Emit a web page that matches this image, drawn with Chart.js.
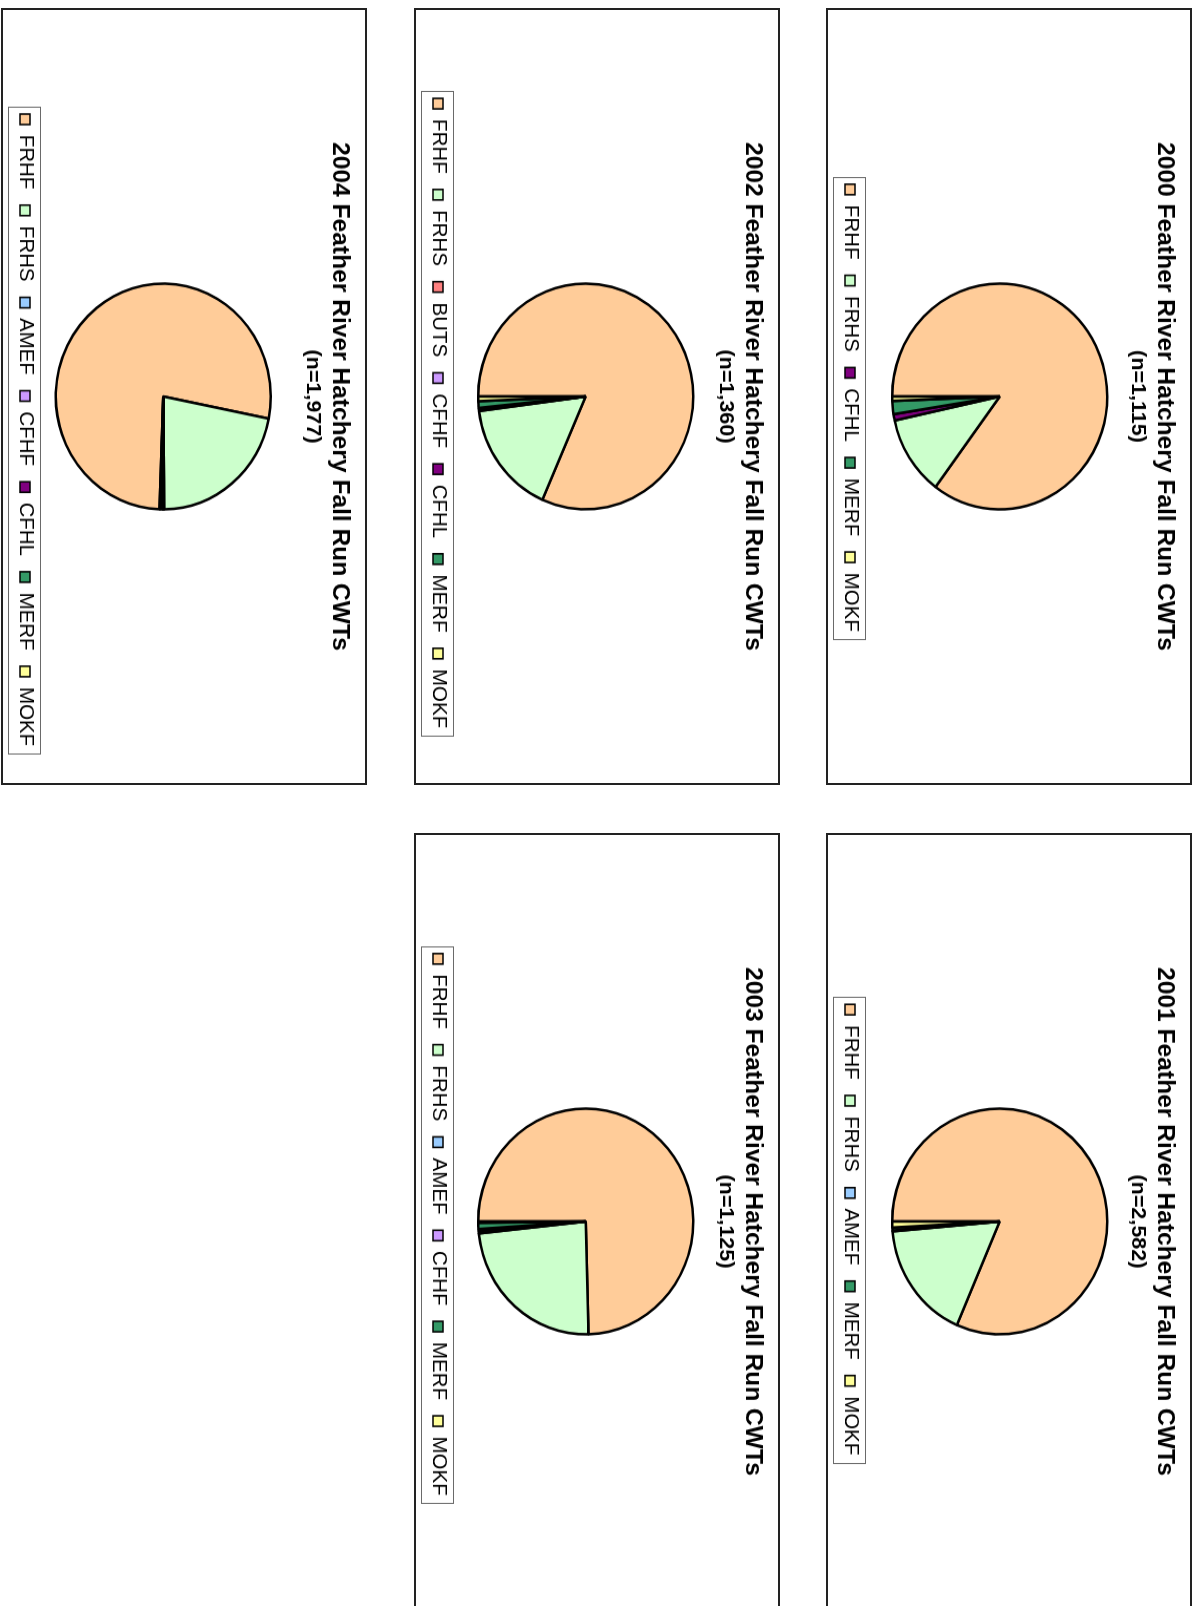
<!DOCTYPE html>
<html>
<head>
<meta charset="utf-8">
<script src="https://cdn.jsdelivr.net/npm/chart.js@4/dist/chart.umd.min.js"></script>
<style>
  html, body { margin: 0; padding: 0; background: #fff; }
  body { width: 1198px; height: 1606px; position: relative; overflow: hidden; }
  .panel { position: absolute; box-sizing: border-box; border: 2px solid #222; background: #fff; }
  .chart { position: absolute; left: 0; top: 0; transform-origin: 0 0; }
</style>
</head>
<body>
<script>
// Coded-wire-tag recoveries by hatchery/release group, Feather River Hatchery fall run
const years = ['2000', '2001', '2002', '2003', '2004'];

const labels2000 = ['FRHF', 'FRHS', 'CFHL', 'MERF', 'MOKF'];
const counts2000 = [950, 127, 10, 21, 7];

const labels2001 = ['FRHF', 'FRHS', 'AMEF', 'MERF', 'MOKF'];
const counts2001 = [2105, 441, 3, 11, 22];

const labels2002 = ['FRHF', 'FRHS', 'BUTS', 'CFHF', 'CFHL', 'MERF', 'MOKF'];
const counts2002 = [1110, 222, 2, 2, 2, 13, 9];

const labels2003 = ['FRHF', 'FRHS', 'AMEF', 'CFHF', 'MERF', 'MOKF'];
const counts2003 = [839, 267, 3, 4, 10, 2];

const labels2004 = ['FRHF', 'FRHS', 'AMEF', 'CFHF', 'CFHL', 'MERF', 'MOKF'];
const counts2004 = [1534, 429, 2, 2, 2, 6, 2];

// Angle of the first slice (degrees, clockwise from 12 o'clock) for each year
const firstSliceAngles = [180, 180, 180, 180, 92];

// Fill colour for each release group
const groupColors = {
  FRHF: '#FFCC99',
  FRHS: '#CCFFCC',
  BUTS: '#FF8080',
  AMEF: '#99CCFF',
  CFHF: '#CC99FF',
  CFHL: '#800080',
  MERF: '#339966',
  MOKF: '#FFFF99'
};

const yearLabels = [labels2000, labels2001, labels2002, labels2003, labels2004];
const yearCounts = [counts2000, counts2001, counts2002, counts2003, counts2004];

// Page layout: each chart sits in a framed box, turned a quarter turn clockwise
const STRETCH = 1.05;       // page is printed slightly taller than wide
const CHART_W = 740;        // chart width before rotation
const CHART_H = 366;        // chart height before rotation
const PANEL_W = 366;
const PANEL_H = 777;
const panels = [
  { left: 826, top: 8,   pieY: 192.3, legendDx: 11 },
  { left: 826, top: 833, pieY: 192.3, legendDx: 8 },
  { left: 414, top: 8,   pieY: 194.3, legendDx: 16 },
  { left: 414, top: 833, pieY: 194.3, legendDx: 3 },
  { left: 1,   top: 8,   pieY: 203.7, legendDx: 32 }
];

const FONT = "'Liberation Sans', Arial, Helvetica, sans-serif";
Chart.defaults.font.family = FONT;
Chart.defaults.color = '#000';

// Positions the pie and the legend row, and frames the legend
const placement = {
  id: 'placement',
  afterLayout(chart, args, o) {
    const ca = chart.chartArea;
    const half = o.radius + 4;
    ca.top = o.pieY - half;
    ca.bottom = o.pieY + half;
    ca.height = 2 * half;
    const lg = chart.legend;
    const pad = lg.options.labels.padding;
    const fs = lg.options.labels.font.size;
    const h = lg.height;
    lg.top = o.legendMid - pad - fs / 2;
    lg.bottom = lg.top + h;
    lg.left += o.legendDx;
    lg.right += o.legendDx;
  },
  afterDraw(chart, args, o) {
    const lg = chart.legend;
    const pad = lg.options.labels.padding;
    const lineW = lg.lineWidths[0];
    const x0 = (lg.left + pad + lg.right - lineW) / 2;
    const x1 = x0 + lineW - pad;
    const ctx = chart.ctx;
    ctx.save();
    ctx.strokeStyle = '#6a6a6a';
    ctx.lineWidth = 1;
    ctx.strokeRect(Math.round(x0 - o.boxMargin) + 0.5, Math.round(o.legendMid - o.boxHalf) + 0.5,
                   Math.round(x1 - x0 + 2 * o.boxMargin), Math.round(2 * o.boxHalf));
    ctx.restore();
  }
};

years.forEach((year, i) => {
  const p = panels[i];
  const frame = document.createElement('div');
  frame.className = 'panel';
  frame.style.left = p.left + 'px';
  frame.style.top = p.top + 'px';
  frame.style.width = PANEL_W + 'px';
  frame.style.height = PANEL_H + 'px';
  document.body.appendChild(frame);

  const holder = document.createElement('div');
  holder.className = 'chart';
  holder.style.width = CHART_W + 'px';
  holder.style.height = CHART_H + 'px';
  holder.style.transform =
    `translate(${p.left + PANEL_W}px, ${p.top}px) rotate(90deg) scaleX(${STRETCH})`;
  const canvas = document.createElement('canvas');
  canvas.width = CHART_W;
  canvas.height = CHART_H;
  holder.appendChild(canvas);
  document.body.appendChild(holder);

  const labels = yearLabels[i];
  const counts = yearCounts[i];
  const total = counts.reduce((a, b) => a + b, 0);

  new Chart(canvas, {
    type: 'pie',
    data: {
      labels: labels,
      datasets: [{
        data: counts,
        backgroundColor: labels.map(l => groupColors[l]),
        borderColor: '#000',
        borderWidth: 2.5,
        clip: false
      }]
    },
    options: {
      responsive: false,
      animation: false,
      events: [],
      radius: 107.5,
      rotation: firstSliceAngles[i],
      layout: { padding: { top: 0, bottom: 8, left: 0, right: 0 } },
      plugins: {
        title: {
          display: true,
          text: `${year} Feather River Hatchery Fall Run CWTs`,
          color: '#000',
          font: { family: FONT, size: 23.4, weight: 'bold', lineHeight: 1.2 },
          padding: { top: 14, bottom: 0.5 }
        },
        subtitle: {
          display: true,
          text: `(n=${total.toLocaleString('en-US')})`,
          color: '#000',
          font: { family: FONT, size: 20.5, weight: 'bold', lineHeight: 1.15 },
          padding: { top: 0, bottom: 0 }
        },
        legend: {
          display: true,
          position: 'bottom',
          align: 'center',
          labels: {
            boxWidth: 10,
            boxHeight: 10,
            padding: 15,
            color: '#000',
            font: { family: FONT, size: 19.5 },
            generateLabels(chart) {
              const items = Chart.overrides.pie.plugins.legend.labels.generateLabels(chart);
              items.forEach(it => { it.lineWidth = 1.6; it.strokeStyle = '#000'; });
              return items;
            }
          }
        },
        tooltip: { enabled: false },
        placement: {
          radius: 107.5,
          pieY: p.pieY,
          legendMid: 342,
          legendDx: p.legendDx,
          boxMargin: 7,
          boxHalf: 16
        }
      }
    },
    plugins: [placement]
  });
});
</script>
</body>
</html>
